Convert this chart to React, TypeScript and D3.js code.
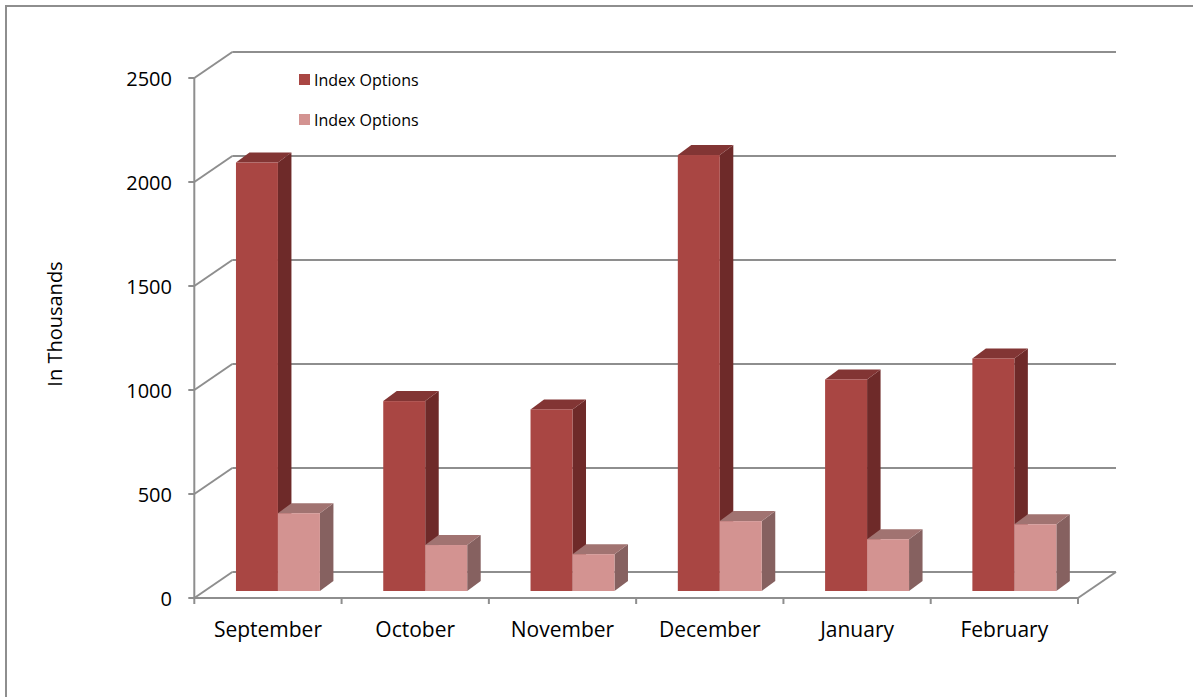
import React from "react";
import * as d3 from "d3";

const categories = ["September", "October", "November", "December", "January", "February"];
const seriesNames = ["Index Options", "Index Options"];
const seriesA = [2060, 913, 873, 2096, 1017, 1118];
const seriesB = [374, 221, 177, 336, 249, 321];
const yTicks = [0, 500, 1000, 1500, 2000, 2500];

const W = 1193;
const H = 697;
const FONT = "'Open Sans', Carlito, Lato, sans-serif";

export default function App() {
  const x0 = 194.3;
  const x1 = 1078;
  const yBase = 598;
  const yTop = 78;
  const DX = 38;
  const DY = -26;
  const y = d3.scaleLinear().domain([0, 2500]).range([yBase, yTop]);
  const xCat = d3.scaleBand<string>().domain(categories).range([x0, x1]).padding(0);
  const bw = xCat.bandwidth();
  const groupW = bw * 0.57;
  const xSeries = d3.scaleBand<number>().domain([0, 1]).range([(bw - groupW) / 2, (bw + groupW) / 2]).padding(0);
  // bar plane offset
  const bdx = 10;
  const bdy = -7;
  // bar depth
  const ddx = 13.5;
  const ddy = -10;

  const grid = "#8e8e8e";
  const colors = [
    { front: "#A94643", side: "#6E2A29", top: "#823534" },
    { front: "#D39391", side: "#866160", top: "#A17371" },
  ];
  const data = [seriesA, seriesB];

  const bars: React.ReactNode[] = [];
  categories.forEach((c, i) => {
    [0, 1].forEach((s) => {
      const v = data[s][i];
      const bx = (xCat(c) as number) + xSeries(s)! + bdx;
      const w = xSeries.bandwidth();
      const base = y(0) + bdy;
      const top = y(v) + bdy;
      const col = colors[s];
      bars.push(
        <g key={`${i}-${s}`}>
          <polygon
            points={`${bx + w},${top} ${bx + w + ddx},${top + ddy} ${bx + w + ddx},${base + ddy} ${bx + w},${base}`}
            fill={col.side}
          />
          <polygon
            points={`${bx},${top} ${bx + ddx},${top + ddy} ${bx + w + ddx},${top + ddy} ${bx + w},${top}`}
            fill={col.top}
          />
          <rect x={bx} y={top} width={w} height={base - top} fill={col.front} />
        </g>
      );
    });
  });

  return (
    <svg
      width={W}
      height={H}
      style={{ position: "absolute", left: 0, top: 0, background: "#fff" }}
      fontFamily={FONT}
    >
      <rect x={6} y={6} width={W + 10} height={H + 10} fill="none" stroke={grid} strokeWidth={2} />
      {/* gridlines on back wall with left-wall diagonals */}
      {yTicks.map((t) => (
        <g key={t}>
          <line x1={x0 + DX} x2={x1 + DX} y1={y(t) + DY} y2={y(t) + DY} stroke={grid} strokeWidth={2} />
          <line x1={x0} x2={x0 + DX} y1={y(t)} y2={y(t) + DY} stroke={grid} strokeWidth={2} />
          <line x1={x0 - 6} x2={x0} y1={y(t)} y2={y(t)} stroke={grid} strokeWidth={2} />
          <text x={172} y={y(t)} textAnchor="end" dominantBaseline="central" fontSize={20} fill="#000">
            {t}
          </text>
        </g>
      ))}
      {/* front vertical axis */}
      <line x1={x0} x2={x0} y1={y(2500)} y2={y(0)} stroke={grid} strokeWidth={2} />
      {/* floor */}
      <line x1={x0} x2={x1} y1={y(0)} y2={y(0)} stroke={grid} strokeWidth={2} />
      <line x1={x1} x2={x1 + DX} y1={y(0)} y2={y(0) + DY} stroke={grid} strokeWidth={2} />
      {/* bottom ticks */}
      {d3.range(categories.length + 1).map((i) => {
        const tx = x0 + i * bw;
        return <line key={i} x1={tx} x2={tx} y1={y(0)} y2={y(0) + 6} stroke={grid} strokeWidth={2} />;
      })}
      {bars}
      {categories.map((c) => (
        <text key={c} x={(xCat(c) as number) + bw / 2} y={637} textAnchor="middle" fontSize={21} fill="#000">
          {c}
        </text>
      ))}
      <text
        transform={`translate(62,324) rotate(-90)`}
        textAnchor="middle"
        fontSize={20}
        fill="#000"
      >
        In Thousands
      </text>
      {seriesNames.map((n, i) => (
        <g key={i}>
          <rect x={299} y={74 + i * 40} width={11} height={11} fill={colors[i].front} />
          <text x={314} y={80 + i * 40} dominantBaseline="central" fontSize={16} fill="#000">
            {n}
          </text>
        </g>
      ))}
    </svg>
  );
}
